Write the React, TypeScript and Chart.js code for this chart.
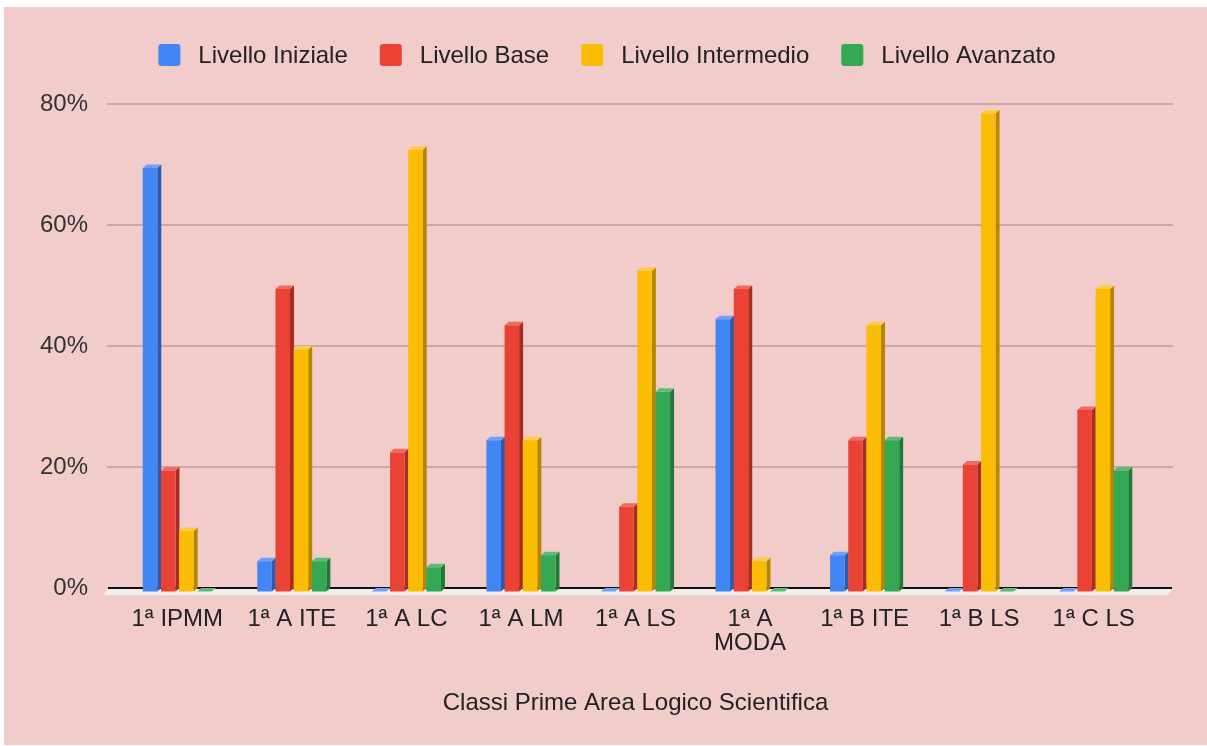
import React, { useEffect, useRef } from 'react';
import { Chart, registerables } from 'chart.js';

Chart.register(...registerables);

const categories: (string | string[])[] = [
  '1ª IPMM',
  '1ª A ITE',
  '1ª A LC',
  '1ª A LM',
  '1ª A LS',
  ['1ª A', 'MODA'],
  '1ª B ITE',
  '1ª B LS',
  '1ª C LS',
];
const seriesNames = ['Livello Iniziale', 'Livello Base', 'Livello Intermedio', 'Livello Avanzato'];
const livelloIniziale = [70, 5, 0, 25, 0, 45, 6, 0, 0];
const livelloBase = [20, 50, 23, 44, 14, 50, 25, 21, 30];
const livelloIntermedio = [10, 40, 73, 25, 53, 5, 44, 79, 50];
const livelloAvanzato = [0, 5, 4, 6, 33, 0, 25, 0, 20];
const yTickValues = [0, 20, 40, 60, 80];
const axisTitle = 'Classi Prime Area Logico Scientifica';

const frontColors = ['#4285F4', '#EA4335', '#FBBC04', '#34A853'];
const sideColors = ['#2C5BAE', '#A82C22', '#B58700', '#22783A'];
const topColors = ['#6EA1F7', '#EF6B61', '#FCCC45', '#5DBB77'];

const FONT = "'Liberation Sans', Arial, sans-serif";
const FS = 24;
const DX = 4;
const DY = 3.5;

const backgroundPlugin = {
  id: 'bg',
  beforeDraw(chart: any) {
    const ctx = chart.ctx;
    ctx.save();
    ctx.fillStyle = '#ffffff';
    ctx.fillRect(0, 0, chart.width, chart.height);
    ctx.fillStyle = '#F2CBCB';
    ctx.fillRect(4, 7, chart.width - 4, chart.height - 8);
    ctx.restore();
  },
};

const gridPlugin = {
  id: 'grid3d',
  beforeDatasetsDraw(chart: any) {
    const ctx = chart.ctx;
    const y = chart.scales.y;
    const x0 = 107;
    const x1 = 1173;
    ctx.save();
    yTickValues.forEach((v) => {
      if (v === 0) return;
      const py = Math.round(y.getPixelForValue(v));
      ctx.strokeStyle = '#BE9C9C';
      ctx.lineWidth = 1.5;
      ctx.beginPath();
      ctx.moveTo(x0, py);
      ctx.lineTo(x1, py);
      ctx.stroke();
    });
    const base = y.getPixelForValue(0);
    ctx.fillStyle = '#F6EDED';
    ctx.beginPath();
    ctx.moveTo(x0 + 1, base + 1);
    ctx.lineTo(x1 - 1, base + 1);
    ctx.lineTo(x1 - 5, base + 7);
    ctx.lineTo(x0 - 4, base + 7);
    ctx.closePath();
    ctx.fill();
    ctx.strokeStyle = '#111111';
    ctx.lineWidth = 2;
    ctx.beginPath();
    ctx.moveTo(x0 + 1, base);
    ctx.lineTo(x1 - 1, base);
    ctx.stroke();
    ctx.restore();
  },
};

const bars3dPlugin = {
  id: 'bars3d',
  afterDatasetsDraw(chart: any) {
    const ctx = chart.ctx;
    ctx.save();
    const n = chart.data.labels.length;
    for (let i = 0; i < n; i++) {
      chart.data.datasets.forEach((ds: any, di: number) => {
        const meta = chart.getDatasetMeta(di);
        const el = meta.data[i];
        if (!el) return;
        const { x, y, base, width } = el.getProps(['x', 'y', 'base', 'width'], true);
        const l = x - width / 2;
        const r = x + width / 2;
        const ft = y + DY;
        const fb = base + DY;
        ctx.fillStyle = sideColors[di];
        ctx.beginPath();
        ctx.moveTo(r, ft);
        ctx.lineTo(r + DX, ft - DY);
        ctx.lineTo(r + DX, fb - DY);
        ctx.lineTo(r, fb);
        ctx.closePath();
        ctx.fill();
        ctx.fillStyle = topColors[di];
        ctx.beginPath();
        ctx.moveTo(l, ft);
        ctx.lineTo(l + DX, ft - DY);
        ctx.lineTo(r + DX, ft - DY);
        ctx.lineTo(r, ft);
        ctx.closePath();
        ctx.fill();
        if (fb - ft > 0.5) {
          ctx.fillStyle = frontColors[di];
          ctx.fillRect(l, ft, r - l, fb - ft);
        }
      });
    }
    ctx.restore();
  },
};

const legendPlugin = {
  id: 'customLegend',
  afterDraw(chart: any) {
    const ctx = chart.ctx;
    ctx.save();
    ctx.font = `${FS}px ${FONT}`;
    ctx.textBaseline = 'middle';
    ctx.textAlign = 'left';
    const box = 22;
    const gapText = 18;
    const gapItem = 32;
    const widths = seriesNames.map((s) => ctx.measureText(s).width);
    const total = widths.reduce((a, w) => a + box + gapText + w, 0) + gapItem * (seriesNames.length - 1);
    let cx = 607 - total / 2;
    const cy = 55;
    seriesNames.forEach((s, i) => {
      ctx.fillStyle = frontColors[i];
      ctx.beginPath();
      (ctx as any).roundRect(cx, cy - box / 2, box, box, 3);
      ctx.fill();
      ctx.fillStyle = '#222222';
      ctx.fillText(s, cx + box + gapText, cy + 1);
      cx += box + gapText + widths[i] + gapItem;
    });
    ctx.restore();
  },
};

export default function App() {
  const ref = useRef<HTMLCanvasElement | null>(null);

  useEffect(() => {
    document.body.style.margin = '0';
    const canvas = ref.current;
    if (!canvas) return;
    const values = [livelloIniziale, livelloBase, livelloIntermedio, livelloAvanzato];
    const chart = new Chart(canvas, {
      type: 'bar',
      data: {
        labels: categories,
        datasets: seriesNames.map((name, i) => ({
          label: name,
          data: values[i],
          backgroundColor: 'rgba(0,0,0,0)',
          borderWidth: 0,
          categoryPercentage: 0.635,
          barPercentage: 0.8,
        })),
      },
      options: {
        responsive: false,
        maintainAspectRatio: false,
        animation: false,
        devicePixelRatio: 1,
        layout: { padding: { left: 0, right: 56, top: 104, bottom: 0 } },
        plugins: {
          legend: { display: false },
          tooltip: { enabled: false },
        },
        scales: {
          x: {
            grid: { display: false, drawTicks: false },
            border: { display: false },
            ticks: {
              font: { family: FONT, size: FS, lineHeight: 1 },
              color: '#222222',
              padding: 19,
              maxRotation: 0,
              autoSkip: false,
            },
            title: {
              display: true,
              text: axisTitle,
              font: { family: FONT, size: FS, lineHeight: 1 },
              color: '#222222',
              padding: { top: 0, bottom: 31 },
            },
            afterFit(scale: any) {
              scale.height = 158;
            },
          },
          y: {
            min: 0,
            max: 80,
            grid: { display: false, drawTicks: false },
            border: { display: false },
            ticks: {
              stepSize: 20,
              padding: 32,
              font: { family: FONT, size: FS },
              color: '#333333',
              callback: (v: any) => `${v}%`,
            },
            afterFit(scale: any) {
              scale.width = 120;
            },
          },
        },
      },
      plugins: [backgroundPlugin, gridPlugin, bars3dPlugin, legendPlugin],
    });
    return () => chart.destroy();
  }, []);

  return (
    <div style={{ position: 'absolute', left: 0, top: 0, width: 1207, height: 746 }}>
      <canvas ref={ref} width={1207} height={746} style={{ width: 1207, height: 746, display: 'block' }} />
    </div>
  );
}
